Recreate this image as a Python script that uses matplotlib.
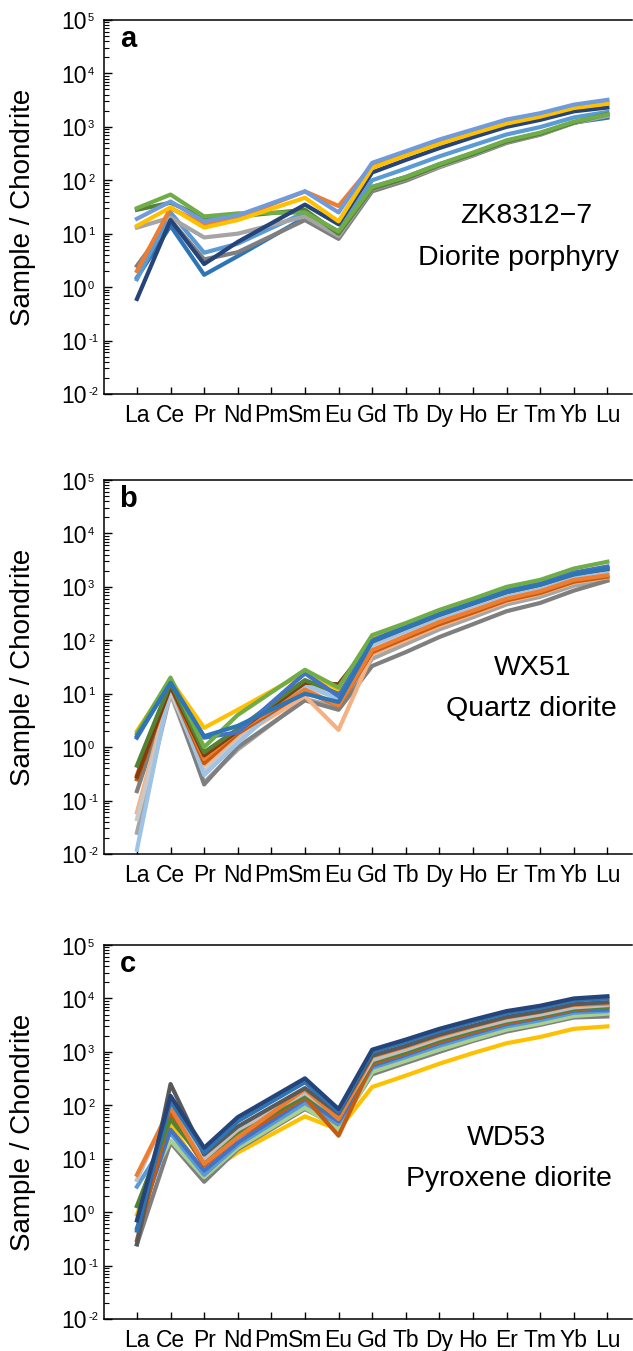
import matplotlib
matplotlib.use("Agg")
from matplotlib import pyplot as plt
from matplotlib.ticker import LogLocator, FixedLocator, NullFormatter
from matplotlib.transforms import offset_copy
import numpy as np

plt.rcParams['font.family'] = ['Liberation Sans', 'DejaVu Sans']

ree = ['La', 'Ce', 'Pr', 'Nd', 'Pm', 'Sm', 'Eu', 'Gd', 'Tb', 'Dy', 'Ho', 'Er', 'Tm', 'Yb', 'Lu']
# Pm has no data; the measured elements are these
measured = ['La', 'Ce', 'Pr', 'Nd', 'Sm', 'Eu', 'Gd', 'Tb', 'Dy', 'Ho', 'Er', 'Tm', 'Yb', 'Lu']

decades = [-2, -1, 0, 1, 2, 3, 4, 5]

# ---- panel a: ZK8312-7 diorite porphyry
a_colors = ['#2E75B6', '#7F7F7F', '#5B9BD5', '#A5A5A5', '#548235', '#70AD47',
            '#264478', '#ED7D31', '#FFC000', '#6F9BDC']
a_data = [
    [1.5, 14, 1.7, 3.8, 20, 9, 75, 115, 200, 320, 540, 760, 1200, 1480],
    [2.5, 18, 3.3, 4.5, 18, 8, 62, 98, 175, 290, 500, 710, 1180, 1650],
    [1.4, 25, 4.4, 6.5, 25, 11, 100, 165, 280, 450, 720, 990, 1500, 1900],
    [13, 20, 8.5, 10, 21, 9, 68, 105, 180, 300, 520, 720, 1180, 1600],
    [28, 38, 20, 21, 28, 10, 70, 108, 190, 310, 530, 740, 1200, 1750],
    [30, 54, 21, 24, 25, 11, 75, 115, 200, 330, 560, 780, 1250, 1700],
    [0.6, 18, 2.7, 7, 35, 15, 140, 240, 400, 640, 1000, 1350, 1950, 2300],
    [2.0, 30, 15, 20, 62, 33, 190, 310, 520, 800, 1250, 1650, 2350, 2800],
    [14, 31, 13, 18, 47, 17, 170, 290, 480, 750, 1150, 1550, 2250, 2700],
    [19, 40, 17, 22, 62, 25, 212, 350, 580, 890, 1370, 1800, 2600, 3200],
]

# ---- panel b: WX51 quartz diorite
b_colors = ['#A5A5A5', '#7F7F7F', '#F4B183', '#C9C9C9', '#9DC3E6', '#C55A11',
            '#ED7D31', '#843C0C', '#548235', '#FFC000', '#4472C4', '#70AD47', '#2E75B6']
b_data = [
    [0.025, 10, 0.22, 0.9, 8, 5.5, 45, 85, 160, 270, 470, 650, 1050, 1350],
    [0.15, 12, 0.2, 1.0, 7.5, 5, 33, 60, 115, 200, 350, 500, 850, 1300],
    [0.06, 13, 0.45, 1.5, 9, 2.1, 55, 100, 185, 310, 530, 740, 1200, 1500],
    [0.045, 11, 0.35, 1.3, 14, 8, 75, 135, 240, 400, 660, 900, 1450, 1900],
    [0.012, 15, 0.3, 1.2, 15, 8, 85, 150, 270, 450, 740, 1020, 1650, 2000],
    [0.25, 14, 0.5, 1.8, 11, 6, 60, 110, 200, 330, 560, 770, 1250, 1550],
    [0.3, 15, 0.6, 2.0, 12, 6, 65, 120, 220, 360, 600, 830, 1350, 1650],
    [0.28, 14, 0.7, 2.0, 16, 15, 95, 170, 300, 490, 800, 1100, 1750, 2150],
    [0.45, 16, 0.8, 2.2, 18, 10, 100, 175, 310, 500, 820, 1120, 1800, 2250],
    [2.0, 18, 2.3, 5.0, 25, 12, 110, 190, 330, 530, 850, 1150, 1800, 2300],
    [1.5, 17, 1.5, 1.9, 24, 9, 100, 180, 320, 520, 850, 1150, 1850, 2400],
    [1.8, 20, 1.0, 4.0, 28, 13, 125, 210, 370, 600, 1000, 1350, 2200, 2950],
    [1.6, 16, 1.6, 2.5, 10, 7, 95, 170, 300, 490, 800, 1100, 1700, 2200],
]

# ---- panel c: WD53 pyroxene diorite
c_colors = ['#FFC000', '#7F7F7F', '#A9D18E', '#5B9BD5', '#4472C4', '#C55A11',
            '#548235', '#BFBFBF', '#ED7D31', '#595959', '#2E75B6', '#264478']
c_data = [
    [0.9, 45, 5, 13, 62, 35, 220, 360, 600, 950, 1450, 1900, 2700, 3000],
    [0.25, 20, 3.7, 15, 85, 40, 380, 620, 1000, 1600, 2400, 3200, 4400, 4600],
    [1.3, 22, 4.5, 16, 90, 35, 420, 680, 1100, 1700, 2600, 3400, 4700, 5200],
    [3, 30, 5, 18, 110, 45, 500, 800, 1300, 2000, 3000, 3900, 5400, 5800],
    [0.5, 35, 6, 20, 130, 50, 550, 880, 1450, 2200, 3300, 4300, 5900, 6200],
    [0.3, 70, 7.5, 25, 140, 27, 600, 950, 1550, 2350, 3500, 4500, 6200, 7000],
    [1.3, 55, 9, 30, 150, 60, 650, 1000, 1650, 2500, 3700, 4700, 6400, 7000],
    [4, 100, 10, 35, 170, 60, 700, 1100, 1800, 2700, 3900, 5000, 6800, 7500],
    [5, 90, 8, 25, 200, 55, 820, 1250, 2000, 3000, 4400, 5600, 7600, 8000],
    [0.25, 250, 12, 40, 210, 70, 850, 1300, 2100, 3100, 4500, 5700, 7800, 8500],
    [0.45, 120, 13, 50, 270, 75, 1000, 1550, 2450, 3700, 5300, 6700, 9200, 10000],
    [0.7, 150, 16, 60, 320, 85, 1100, 1700, 2700, 4000, 5800, 7300, 10000, 11000],
]

panels = [
    ('a', 'ZK8312\u22127', 'Diorite porphyry', a_data, a_colors, [0.80, 0.477], [0.785, 0.363], [0.1643, 0.7084]),
    ('b', 'WX51', 'Quartz diorite', b_data, b_colors, [0.8125, 0.497], [0.81, 0.388], [0.1643, 0.3679]),
    ('c', 'WD53', 'Pyroxene diorite', c_data, c_colors, [0.763, 0.484], [0.767, 0.374], [0.1643, 0.0237]),
]

x_meas = [ree.index(e) for e in measured]

fig = plt.figure(figsize=(6.33, 13.51), dpi=100)

for letter, name, rock, data, colors, pos1, pos2, origin in panels:
    ax = fig.add_axes([origin[0], origin[1], 0.834, 0.2768])
    for vals, col in zip(data, colors):
        ax.plot(x_meas, vals, color=col, lw=3.0)
    ax.set_yscale('log')
    ax.set_ylim(1e-2, 1e5)
    ax.set_xlim(-0.98, 14.73)

    ax.yaxis.set_major_locator(FixedLocator([10.0 ** k for k in decades]))
    ax.yaxis.set_major_formatter(NullFormatter())
    ax.yaxis.set_minor_locator(LogLocator(base=10, subs=np.arange(2, 10), numticks=20))
    ax.yaxis.set_minor_formatter(NullFormatter())
    ax.set_xticks(range(len(ree)))
    ax.set_xticklabels(ree)

    ax.tick_params(axis='y', which='major', direction='in', length=5.5, width=1.0)
    ax.tick_params(axis='y', which='minor', direction='in', length=3.5, width=0.8)
    ax.tick_params(axis='x', which='major', direction='in', length=5, width=1.0, labelsize=16.5, pad=7.5)
    for s in ['left', 'bottom', 'top']:
        ax.spines[s].set_linewidth(1.1)
    ax.spines['right'].set_visible(False)

    # y tick labels written as "10" with a small raised exponent
    yt = ax.get_yaxis_transform()
    base_tr = offset_copy(yt, fig=fig, x=-17, y=-3, units='dots')
    exp_tr = offset_copy(yt, fig=fig, x=-16, y=6.5, units='dots')
    for k in decades:
        ax.text(0, 10.0 ** k, '10', transform=base_tr, ha='right', va='center',
                fontsize=16.5, clip_on=False)
        ax.text(0, 10.0 ** k, str(k), transform=exp_tr, ha='left', va='top',
                fontsize=8, clip_on=False)

    ax.set_ylabel('Sample / Chondrite', fontsize=20)
    ax.yaxis.set_label_coords(-0.129, 0.5)

    ax.text(0.045, 0.949, letter, transform=ax.transAxes, fontsize=21, fontweight='bold',
            ha='center', va='center')
    ax.text(pos1[0], pos1[1], name, transform=ax.transAxes, fontsize=20.5, ha='center', va='center')
    ax.text(pos2[0], pos2[1], rock, transform=ax.transAxes, fontsize=20.5, ha='center', va='center')

fig.savefig('out.png', dpi=100)
